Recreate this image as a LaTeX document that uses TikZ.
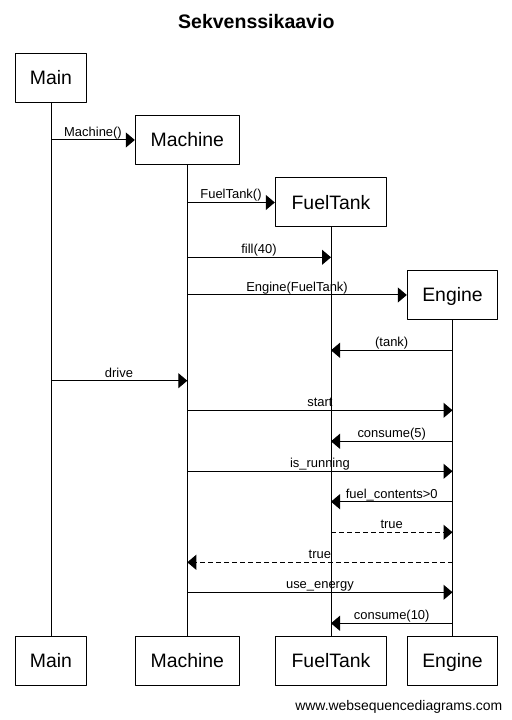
\documentclass[tikz,border=0pt]{standalone}
\usepackage{fontspec}
\setmainfont{Liberation Sans}
\usetikzlibrary{arrows.meta}
\tikzset{
  actor/.style={draw,line width=1bp,minimum height=49bp,inner sep=0pt,text height=14bp,text depth=0bp,font=\fontsize{19.5}{22}\selectfont},
  msglabel/.style={anchor=base,inner sep=0pt,font=\fontsize{13}{15}\selectfont},
  lifeline/.style={black,line width=1bp},
  reply/.style={black,->,line width=1bp,dash pattern=on 5bp off 3bp},
}
\begin{document}
\begin{tikzpicture}[>={Triangle[length=9bp,width=15bp]},line join=bevel,]
\useasboundingbox (0bp,0bp) rectangle (512bp,720bp);
%%
\node (node_title) at (256.3bp,691.7bp) [anchor=base,font=\bfseries\fontsize{19.6}{22}\selectfont] {Sekvenssikaavio};
\node (node_footer) at (502.5bp,10bp) [anchor=base east,inner sep=0pt,font=\fontsize{14}{16}\selectfont] {www.websequencediagrams.com};
%
\node (node_main_top) at (51bp,642.2bp) [actor,minimum width=71.4bp] {Main};
  \node (node_machine_top) at (187.3bp,580bp) [actor,minimum width=104bp] {Machine};
  \node (node_fueltank_top) at (331bp,517.5bp) [actor,minimum width=111.4bp] {FuelTank};
  \node (node_engine_top) at (452.5bp,425bp) [actor,minimum width=90.4bp] {Engine};
\node (node_main_bot) at (51bp,59.3bp) [actor,minimum width=71.4bp] {Main};
  \node (node_machine_bot) at (187.3bp,59.3bp) [actor,minimum width=104bp] {Machine};
  \node (node_fueltank_bot) at (331bp,59.3bp) [actor,minimum width=111.4bp] {FuelTank};
  \node (node_engine_bot) at (452.5bp,59.3bp) [actor,minimum width=90.4bp] {Engine};
%
\draw [lifeline] (node_main_top) -- (node_main_bot);
  \draw [lifeline] (node_machine_top) -- (node_machine_bot);
  \draw [lifeline] (node_fueltank_top) -- (node_fueltank_bot);
  \draw [lifeline] (node_engine_top) -- (node_engine_bot);
%
\coordinate (msg_1) at (51bp,580bp);
  \draw [black,->,line width=1bp] (msg_1) -- (node_machine_top.west);
  \node (lbl_1) at (93bp,583bp) [msglabel] {Machine()};
\coordinate (msg_2) at (187.3bp,517.5bp);
  \draw [black,->,line width=1bp] (msg_2) -- (node_fueltank_top.west);
  \node (lbl_2) at (231bp,521bp) [msglabel] {FuelTank()};
\coordinate (msg_3a) at (187.3bp,462.7bp);
  \coordinate (msg_3b) at (331bp,462.7bp);
  \draw [black,->,line width=1bp] (msg_3a) -- (msg_3b);
  \node (lbl_3) at (259bp,466bp) [msglabel] {fill(40)};
\coordinate (msg_4) at (187.3bp,425bp);
  \draw [black,->,line width=1bp] (msg_4) -- (node_engine_top.west);
  \node (lbl_4) at (297bp,428bp) [msglabel] {Engine(FuelTank)};
\coordinate (msg_5a) at (452.5bp,369.7bp);
  \coordinate (msg_5b) at (331bp,369.7bp);
  \draw [black,->,line width=1bp] (msg_5a) -- (msg_5b);
  \node (lbl_5) at (391.7bp,373bp) [msglabel] {(tank)};
\coordinate (msg_6a) at (51bp,339.3bp);
  \coordinate (msg_6b) at (187.3bp,339.3bp);
  \draw [black,->,line width=1bp] (msg_6a) -- (msg_6b);
  \node (lbl_6) at (119bp,342.6bp) [msglabel] {drive};
\coordinate (msg_7a) at (187.3bp,309.7bp);
  \coordinate (msg_7b) at (452.5bp,309.7bp);
  \draw [black,->,line width=1bp] (msg_7a) -- (msg_7b);
  \node (lbl_7) at (319.9bp,313bp) [msglabel] {start};
\coordinate (msg_8a) at (452.5bp,278.7bp);
  \coordinate (msg_8b) at (331bp,278.7bp);
  \draw [black,->,line width=1bp] (msg_8a) -- (msg_8b);
  \node (lbl_8) at (391.7bp,282bp) [msglabel] {consume(5)};
\coordinate (msg_9a) at (187.3bp,248.7bp);
  \coordinate (msg_9b) at (452.5bp,248.7bp);
  \draw [black,->,line width=1bp] (msg_9a) -- (msg_9b);
  \node (lbl_9) at (319.9bp,252bp) [msglabel] {is\_running};
\coordinate (msg_10a) at (452.5bp,218.3bp);
  \coordinate (msg_10b) at (331bp,218.3bp);
  \draw [black,->,line width=1bp] (msg_10a) -- (msg_10b);
  \node (lbl_10) at (391.7bp,221.6bp) [msglabel] {fuel\_contents>0};
\coordinate (msg_11a) at (331bp,187.7bp);
  \coordinate (msg_11b) at (452.5bp,187.7bp);
  \draw [reply] (msg_11a) -- (msg_11b);
  \node (lbl_11) at (391.7bp,191bp) [msglabel] {true};
\coordinate (msg_12a) at (452.5bp,157.7bp);
  \coordinate (msg_12b) at (187.3bp,157.7bp);
  \draw [reply] (msg_12a) -- (msg_12b);
  \node (lbl_12) at (319.9bp,161bp) [msglabel] {true};
\coordinate (msg_13a) at (187.3bp,127.7bp);
  \coordinate (msg_13b) at (452.5bp,127.7bp);
  \draw [black,->,line width=1bp] (msg_13a) -- (msg_13b);
  \node (lbl_13) at (319.9bp,131bp) [msglabel] {use\_energy};
\coordinate (msg_14a) at (452.5bp,96.7bp);
  \coordinate (msg_14b) at (331bp,96.7bp);
  \draw [black,->,line width=1bp] (msg_14a) -- (msg_14b);
  \node (lbl_14) at (391.7bp,100bp) [msglabel] {consume(10)};
%
\end{tikzpicture}
\end{document}
